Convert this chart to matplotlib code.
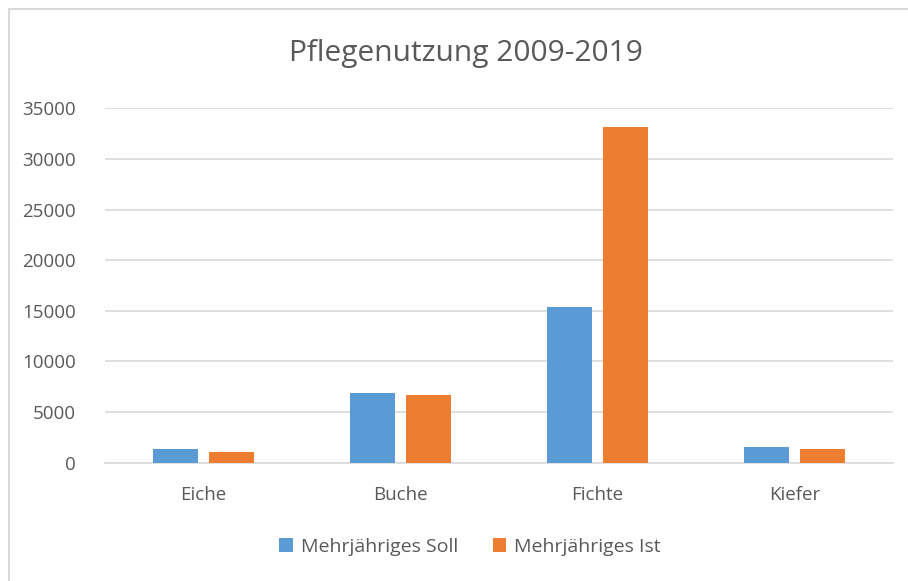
import matplotlib
matplotlib.use("Agg")
import matplotlib.pyplot as plt
import matplotlib.patches as patches
import numpy as np

categories = ["Eiche", "Buche", "Fichte", "Kiefer"]
soll = [1320, 6880, 15350, 1520]
ist = [1060, 6690, 33120, 1380]
series_names = ["Mehrjähriges Soll", "Mehrjähriges Ist"]

plt.rcParams['font.family'] = ['Open Sans', 'DejaVu Sans']
text_color = '#595959'

fig = plt.figure(figsize=(9.08, 5.81), dpi=100)
ax = fig.add_axes([105 / 908, 1 - 462.7 / 581, 788 / 908, 354.4 / 581])

x = np.arange(len(categories))
w = 0.228
off = 0.142
ax.bar(x - off, soll, width=w, color='#5B9BD5', label=series_names[0], zorder=3)
ax.bar(x + off, ist, width=w, color='#ED7D31', label=series_names[1], zorder=3)

ax.set_xlim(-0.5, len(categories) - 0.5)
ax.set_ylim(0, 35000)
ax.set_yticks(np.arange(0, 35001, 5000))
ax.set_xticks(x)
ax.set_xticklabels(categories)
ax.grid(axis='y', color='#D9D9D9', linewidth=1.2, zorder=0)
for s in ['top', 'right', 'left']:
	ax.spines[s].set_visible(False)
ax.spines['bottom'].set_color('#D9D9D9')
ax.spines['bottom'].set_linewidth(1.2)
ax.tick_params(axis='both', length=0, labelsize=13.5, colors=text_color)
ax.tick_params(axis='y', pad=21)
ax.tick_params(axis='x', pad=17)

fig.text(466 / 908, 1 - 54 / 581, "Pflegenutzung 2009-2019", ha='center', va='center',
	fontsize=21.5, color=text_color)

leg = fig.legend(loc='center', bbox_to_anchor=(470 / 908, 1 - 547 / 581), ncol=2,
	frameon=False, fontsize=14, handlelength=0.7, handleheight=0.7,
	handletextpad=0.4, columnspacing=1.8)
for t in leg.get_texts():
	t.set_color(text_color)

# chart border (only top/left visible in the crop)
fig.patches.append(patches.Rectangle((9 / 908, -0.05), 1.1, 1 - 9 / 581 + 0.05,
	transform=fig.transFigure, fill=False, edgecolor='#D9D9D9', linewidth=1.5))

fig.savefig("out.png", dpi=100, facecolor='white')
